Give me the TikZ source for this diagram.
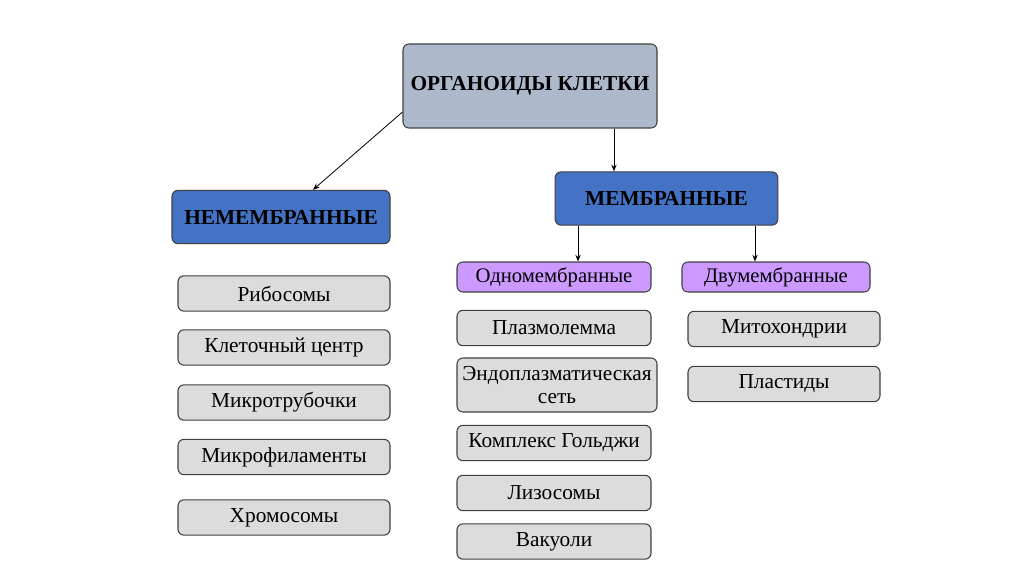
\documentclass[tikz,border=0pt]{standalone}
\usepackage{fontspec}
\setmainfont{Liberation Serif}
\usetikzlibrary{arrows.meta}

\definecolor{topgray}{HTML}{ADB9CA}
\definecolor{headblue}{HTML}{4472C4}
\definecolor{subviolet}{HTML}{CC99FF}
\definecolor{itemgray}{HTML}{DCDCDC}
\definecolor{edgegray}{HTML}{404040}

\tikzset{
    px/.style={x=0.75pt, y=-0.75pt},
    boxbase/.style={draw=edgegray, rounded corners=4.5pt, align=center, inner sep=0pt, line width=0.8pt},
    topbox/.style={boxbase, fill=topgray, minimum width=190.5pt, minimum height=63pt, font=\fontsize{16}{18}\selectfont\bfseries},
    headbox/.style={boxbase, fill=headblue, minimum height=40pt, font=\fontsize{16}{18}\selectfont\bfseries},
    subbox/.style={boxbase, fill=subviolet, minimum height=22.5pt, font=\fontsize{15.5}{17}\selectfont},
    itembox/.style={boxbase, fill=itemgray, minimum height=26.5pt, font=\fontsize{16}{17}\selectfont},
    link/.style={-{Stealth[length=5pt,width=4pt]}, line width=0.6pt}
}

\begin{document}
\begin{tikzpicture}[px]
        \useasboundingbox (0,0) rectangle (1024,574);

        % Root
        \node[topbox] (root) at (530,86) {ОРГАНОИДЫ КЛЕТКИ};

        % Two main groups
        \node[headbox, minimum width=163.5pt] (nonmem) at (281,217) {НЕМЕМБРАННЫЕ};
        \node[headbox, minimum width=167pt] (mem) at (666.5,198.5) {МЕМБРАННЫЕ};

        % Membrane subgroups
        \node[subbox, minimum width=145.5pt] (single) at (554,277) {Одномембранные};
        \node[subbox, minimum width=141pt] (double) at (776,277) {Двумембранные};

        % Non-membrane organelles
        \foreach \name/\y/\txt in {ribo/293.5/Рибосомы, centr/347.5/Клеточный центр,
                tubul/402.5/Микротрубочки, filam/457/Микрофиламенты, chrom/517.5/Хромосомы}
            \node[itembox, minimum width=159pt] (\name) at (284,\y) {\txt};

        % Single-membrane organelles
        \foreach \name/\y/\txt in {plasma/328/Плазмолемма, golgi/443/Комплекс Гольджи,
                lyso/493/Лизосомы, vacuole/541.5/Вакуоли}
            \node[itembox, minimum width=145.5pt] (\name) at (554,\y) {\txt};
        \node[itembox, minimum width=150pt, minimum height=40.5pt, text depth=0pt] (er) at (557,385)
            {Эндоплазматическая\\сеть};

        % Double-membrane organelles
        \foreach \name/\y/\txt in {mito/329/Митохондрии, plast/384/Пластиды}
            \node[itembox, minimum width=144pt] (\name) at (784,\y) {\txt};

        % Connectors
        \draw[link] (root.west |- 0,112) -- (nonmem.north -| 313,0);
        \draw[link] (root.south -| 614,0) -- (mem.north -| 614,0);
        \draw[link] (mem.south -| 578,0) -- (single.north -| 578,0);
        \draw[link] (mem.south -| 755,0) -- (double.north -| 755,0);

\end{tikzpicture}
\end{document}
